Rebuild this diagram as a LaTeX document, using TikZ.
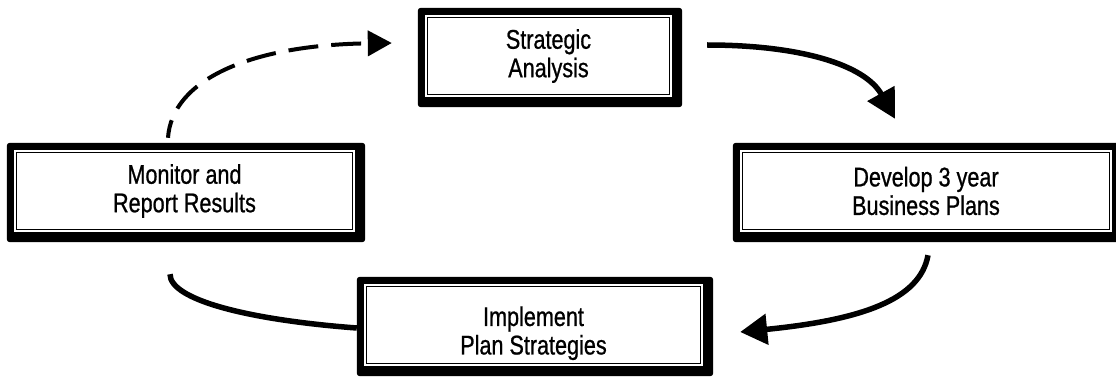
\documentclass[tikz,border=0pt]{standalone}
\usepackage{fontspec}
\newfontfamily\boxfont{Liberation Sans}[FakeStretch=0.8,FakeBold=0.8]
\usetikzlibrary{calc,arrows.meta}
\pgfdeclarelayer{background}
\pgfsetlayers{background,main}
\begin{document}
\begin{tikzpicture}[x=1pt,y=1pt,
  stagebox/.style={minimum width=#1, minimum height=82pt, inner sep=0pt, align=center,
    font=\boxfont\fontsize{27}{28.5}\selectfont},
  flow/.style={line width=5.5pt},
  dashflow/.style={line width=4pt, dash pattern=on 30pt off 13pt, dash phase=12pt},
  bigtip/.style={-{Triangle[length=#1,width=30pt]}}]
\useasboundingbox (0,0) rectangle (1116,-377);

\node[stagebox=247pt] (S) at (548.5,-56) {Strategic\\Analysis};
\node[stagebox=341pt] (M) at (184.5,-191) {Monitor and\\Report Results};
\node[stagebox=372pt] (D) at (926,-191) {Develop 3 year\\Business Plans};
\node[stagebox=339pt] (I) at (533.5,-325) {\rule{0pt}{36pt}Implement\\Plan Strategies};

\begin{pgfonlayer}{background}
\foreach \n in {S,M,D,I}{
  \fill[rounded corners=3pt] ($(\n.north west)+(-7,7)$) rectangle ($(\n.south east)+(10,-10)$);
  \fill[white] (\n.north west) rectangle (\n.south east);
  \draw[line width=1.4pt] ($(\n.north west)+(2.5,-2.5)$) rectangle ($(\n.south east)+(-2.5,2.5)$);
}
\end{pgfonlayer}

% Monitor -> Strategic (dashed)
\draw[dashflow, -{Triangle[length=24pt,width=25pt]}]
  ($(M.north)+(-16.5,12)$) .. controls +(4,58) and +(-142,-2) .. ($(S.west)+(-33,13)$);
% Strategic -> Develop
\draw[flow, bigtip=29pt]
  ($(S.east)+(35,11)$) .. controls +(93,0) and +(-30,54) .. ($(D.north)+(-31,31)$);
% Develop -> Implement
\draw[flow, bigtip=27pt]
  ($(D.south)+(2,-23)$) .. controls +(-8,-45) and +(120,12) .. ($(I.east)+(37,-7)$);
% Implement -> Monitor
\draw[flow]
  ($(I.west)+(-7,-3)$) .. controls +(-107,8) and +(0,-26) .. ($(M.south)+(-14.5,-42)$);
\end{tikzpicture}
\end{document}
